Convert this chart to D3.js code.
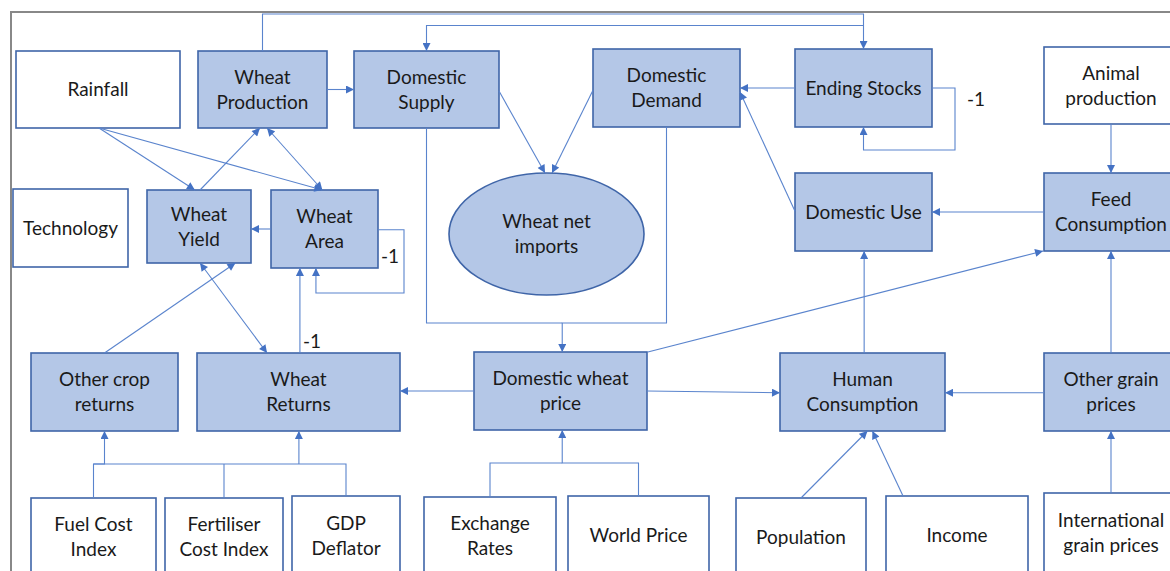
<!DOCTYPE html>
<html>
<head>
<meta charset="utf-8">
<script src="https://d3js.org/d3.v7.min.js"></script>
<style>
  html, body { margin: 0; background: #fff; }
  svg { display: block; font-family: Lato, "Open Sans", sans-serif; }
</style>
</head>
<body>
<svg id="chart" width="1170" height="571"></svg>
<script>
  // model variables (filled = endogenous, white = exogenous)
  const endogenous = [
    "Wheat Production", "Domestic Supply", "Domestic Demand", "Ending Stocks",
    "Wheat Yield", "Wheat Area", "Wheat net imports", "Domestic Use",
    "Feed Consumption", "Other crop returns", "Wheat Returns",
    "Domestic wheat price", "Human Consumption", "Other grain prices"
  ];
  const exogenous = [
    "Rainfall", "Animal production", "Technology", "Fuel Cost Index",
    "Fertiliser Cost Index", "GDP Deflator", "Exchange Rates", "World Price",
    "Population", "Income", "International grain prices"
  ];
  // line breaks inside each box
  const wrapped = {
    "Wheat Production": ["Wheat", "Production"],
    "Domestic Supply": ["Domestic", "Supply"],
    "Domestic Demand": ["Domestic", "Demand"],
    "Wheat Yield": ["Wheat", "Yield"],
    "Wheat Area": ["Wheat", "Area"],
    "Wheat net imports": ["Wheat net", "imports"],
    "Feed Consumption": ["Feed", "Consumption"],
    "Other crop returns": ["Other crop", "returns"],
    "Wheat Returns": ["Wheat", "Returns"],
    "Domestic wheat price": ["Domestic wheat", "price"],
    "Human Consumption": ["Human", "Consumption"],
    "Other grain prices": ["Other grain", "prices"],
    "Animal production": ["Animal", "production"],
    "Fuel Cost Index": ["Fuel Cost", "Index"],
    "Fertiliser Cost Index": ["Fertiliser", "Cost Index"],
    "GDP Deflator": ["GDP", "Deflator"],
    "Exchange Rates": ["Exchange", "Rates"],
    "International grain prices": ["International", "grain prices"]
  };
  // causal links: [from, to, both directions?]
  const links = [
    ["Wheat Production", "Domestic Supply", false],
    ["Rainfall", "Wheat Yield", false],
    ["Rainfall", "Wheat Area", false],
    ["Wheat Yield", "Wheat Production", false],
    ["Wheat Area", "Wheat Production", true],
    ["Wheat Area", "Wheat Yield", false],
    ["Wheat Area", "Wheat Area", false],
    ["Wheat Returns", "Wheat Area", false],
    ["Wheat Returns", "Wheat Yield", true],
    ["Other crop returns", "Wheat Yield", false],
    ["Domestic Supply", "Wheat net imports", false],
    ["Domestic Demand", "Wheat net imports", false],
    ["Ending Stocks", "Domestic Demand", false],
    ["Domestic Use", "Domestic Demand", false],
    ["Ending Stocks", "Ending Stocks", false],
    ["Wheat Production", "Ending Stocks", false],
    ["Ending Stocks", "Domestic Supply", false],
    ["Feed Consumption", "Domestic Use", false],
    ["Animal production", "Feed Consumption", false],
    ["Human Consumption", "Domestic Use", false],
    ["Other grain prices", "Feed Consumption", false],
    ["Domestic wheat price", "Feed Consumption", false],
    ["Domestic Supply", "Domestic wheat price", false],
    ["Domestic Demand", "Domestic wheat price", false],
    ["Domestic wheat price", "Wheat Returns", false],
    ["Domestic wheat price", "Human Consumption", false],
    ["Other grain prices", "Human Consumption", false],
    ["Exchange Rates", "Domestic wheat price", false],
    ["World Price", "Domestic wheat price", false],
    ["Fuel Cost Index", "Other crop returns", false],
    ["Fertiliser Cost Index", "Other crop returns", false],
    ["GDP Deflator", "Wheat Returns", false],
    ["Population", "Human Consumption", false],
    ["Income", "Human Consumption", false],
    ["International grain prices", "Other grain prices", false]
  ];
  const lagLabels = ["-1", "-1", "-1"];

  // ---- layout ----
  const box = {
    "Rainfall": [16, 51, 164, 77],
    "Wheat Production": [198, 51, 129, 77],
    "Domestic Supply": [354, 51, 145, 77],
    "Domestic Demand": [593, 49, 147, 78],
    "Ending Stocks": [795, 49, 137, 78],
    "Animal production": [1044, 47, 134, 77],
    "Technology": [13, 189, 115, 78],
    "Wheat Yield": [147, 190, 104, 73],
    "Wheat Area": [271, 190, 107, 78],
    "Wheat net imports": [449, 173, 195, 122],
    "Domestic Use": [795, 173, 137, 78],
    "Feed Consumption": [1044, 173, 134, 78],
    "Other crop returns": [31, 353, 147, 78],
    "Wheat Returns": [197, 353, 203, 78],
    "Domestic wheat price": [474, 352, 173, 78],
    "Human Consumption": [780, 353, 165, 78],
    "Other grain prices": [1044, 353, 134, 78],
    "Fuel Cost Index": [31, 498, 125, 78],
    "Fertiliser Cost Index": [165, 498, 118, 78],
    "GDP Deflator": [292, 496, 108, 80],
    "Exchange Rates": [424, 497, 132, 78],
    "World Price": [568, 496, 141, 78],
    "Population": [736, 498, 130, 78],
    "Income": [886, 496, 142, 78],
    "International grain prices": [1044, 493, 134, 80]
  };

  // point on a side of a box: t is fraction along that side
  function at(id, side, t = 0.5) {
    const [x, y, w, h] = box[id];
    if (side === "t") return [x + w * t, y];
    if (side === "b") return [x + w * t, y + h];
    if (side === "l") return [x, y + h * t];
    return [x + w, y + h * t];
  }
  const hz = (p, x) => [x, p[1]];
  const vt = (p, y) => [p[0], y];

  const routes = {
    "Wheat Production>Domestic Supply": () => [at("Wheat Production", "r"), hz(at("Wheat Production", "r"), 354)],
    "Rainfall>Wheat Yield": () => [at("Rainfall", "b", 0.506), at("Wheat Yield", "t", 0.46)],
    "Rainfall>Wheat Area": () => [at("Rainfall", "b", 0.506), at("Wheat Area", "t", 0.48)],
    "Wheat Yield>Wheat Production": () => [at("Wheat Yield", "t", 0.51), at("Wheat Production", "b", 0.48)],
    "Wheat Area>Wheat Production": () => [at("Wheat Area", "t", 0.48), at("Wheat Production", "b", 0.535)],
    "Wheat Area>Wheat Yield": () => [at("Wheat Area", "l", 0.5), hz(at("Wheat Area", "l", 0.5), 251)],
    "Wheat Area>Wheat Area": () => {
      const a = at("Wheat Area", "r", 0.51), b = at("Wheat Area", "b", 0.42);
      return [a, hz(a, 404), [404, 293], vt(b, 293), b];
    },
    "Wheat Returns>Wheat Area": () => [at("Wheat Returns", "t", 0.507), vt(at("Wheat Returns", "t", 0.507), 268)],
    "Wheat Returns>Wheat Yield": () => [at("Wheat Returns", "t", 0.345), at("Wheat Yield", "b", 0.51)],
    "Other crop returns>Wheat Yield": () => [at("Other crop returns", "t", 0.5), at("Wheat Yield", "b", 0.85)],
    "Domestic Supply>Wheat net imports": () => [at("Domestic Supply", "r", 0.52), [545, 173]],
    "Domestic Demand>Wheat net imports": () => [at("Domestic Demand", "l", 0.53), [552, 173]],
    "Ending Stocks>Domestic Demand": () => [at("Ending Stocks", "l", 0.5), hz(at("Ending Stocks", "l", 0.5), 740)],
    "Domestic Use>Domestic Demand": () => [at("Domestic Use", "l", 0.49), at("Domestic Demand", "r", 0.55)],
    "Ending Stocks>Ending Stocks": () => {
      const a = at("Ending Stocks", "r", 0.5), b = at("Ending Stocks", "b", 0.5);
      return [a, hz(a, 955), [955, 150], vt(b, 150), b];
    },
    "Wheat Production>Ending Stocks": () => {
      const a = at("Wheat Production", "t", 0.5), b = at("Ending Stocks", "t", 0.5);
      return [a, vt(a, 14), vt(b, 14), b];
    },
    "Ending Stocks>Domestic Supply": () => {
      const a = at("Ending Stocks", "t", 0.5), b = at("Domestic Supply", "t", 0.5);
      return [vt(a, 25.5), vt(b, 25.5), b];
    },
    "Feed Consumption>Domestic Use": () => [at("Feed Consumption", "l", 0.5), hz(at("Feed Consumption", "l", 0.5), 932)],
    "Animal production>Feed Consumption": () => [at("Animal production", "b"), at("Feed Consumption", "t")],
    "Human Consumption>Domestic Use": () => [at("Human Consumption", "t", 0.51), vt(at("Human Consumption", "t", 0.51), 251)],
    "Other grain prices>Feed Consumption": () => [at("Other grain prices", "t"), at("Feed Consumption", "b")],
    "Domestic wheat price>Feed Consumption": () => [at("Domestic wheat price", "t", 1.005), at("Feed Consumption", "b", -0.007)],
    "Domestic Supply>Domestic wheat price": () => {
      const a = at("Domestic Supply", "b", 0.5);
      return [a, vt(a, 323), vt(at("Domestic wheat price", "t", 0.51), 323)];
    },
    "Domestic Demand>Domestic wheat price": () => {
      const a = at("Domestic Demand", "b", 0.5), b = at("Domestic wheat price", "t", 0.51);
      return [a, vt(a, 323), vt(b, 323), b];
    },
    "Domestic wheat price>Wheat Returns": () => [at("Domestic wheat price", "l", 0.5), hz(at("Domestic wheat price", "l", 0.5), 400)],
    "Domestic wheat price>Human Consumption": () => [at("Domestic wheat price", "r", 0.5), at("Human Consumption", "l", 0.51)],
    "Other grain prices>Human Consumption": () => [at("Other grain prices", "l", 0.51), at("Human Consumption", "r", 0.51)],
    "Exchange Rates>Domestic wheat price": () => {
      const a = at("Exchange Rates", "t", 0.5);
      return [a, vt(a, 463), vt(at("Domestic wheat price", "b", 0.51), 463)];
    },
    "World Price>Domestic wheat price": () => {
      const a = at("World Price", "t", 0.5), b = at("Domestic wheat price", "b", 0.51);
      return [a, vt(a, 463), vt(b, 463), b];
    },
    "Fuel Cost Index>Other crop returns": () => {
      const a = at("Fuel Cost Index", "t", 0.5), b = at("Other crop returns", "b", 0.5);
      return [a, vt(a, 464), vt(b, 464), b];
    },
    "Fertiliser Cost Index>Other crop returns": () => {
      const a = at("Fertiliser Cost Index", "t", 0.5);
      return [a, vt(a, 464)];
    },
    "GDP Deflator>Wheat Returns": () => {
      const a = at("GDP Deflator", "t", 0.5), b = at("Wheat Returns", "b", 0.502);
      return [a, vt(a, 464), vt(at("Fuel Cost Index", "t", 0.5), 464), vt(b, 464), b];
    },
    "Population>Human Consumption": () => [at("Population", "t", 0.5), at("Human Consumption", "b", 0.53)],
    "Income>Human Consumption": () => [at("Income", "t", 0.12), at("Human Consumption", "b", 0.56)],
    "International grain prices>Other grain prices": () => [at("International grain prices", "t"), at("Other grain prices", "b")]
  };
  // links whose drawn segment ends without an arrowhead (shared elbow trunks)
  const noHead = new Set([
    "Domestic Supply>Domestic wheat price",
    "Exchange Rates>Domestic wheat price",
    "Fertiliser Cost Index>Other crop returns"
  ]);
  const lagPos = [[381, 256], [303, 341], [967, 99]];

  const lineColor = "#5a84cd";
  const svg = d3.select("#chart");

  const defs = svg.append("defs");
  defs.append("marker")
    .attr("id", "head")
    .attr("viewBox", "0 0 10 10")
    .attr("refX", 10).attr("refY", 5)
    .attr("markerWidth", 9).attr("markerHeight", 8)
    .attr("markerUnits", "userSpaceOnUse")
    .attr("orient", "auto-start-reverse")
    .append("path")
    .attr("d", "M0,0 L10,5 L0,10 z")
    .attr("fill", "#4472c4");

  // outer frame
  svg.append("path")
    .attr("d", d3.line()([[11, 571], [11, 12], [1170, 12]]))
    .attr("fill", "none")
    .attr("stroke", "#888")
    .attr("stroke-width", 2);

  // boxes
  const nodes = endogenous.map(id => ({ id, filled: true }))
    .concat(exogenous.map(id => ({ id, filled: false })));

  const g = svg.append("g").selectAll("g")
    .data(nodes)
    .join("g");

  g.filter(d => d.id !== "Wheat net imports")
    .append("rect")
    .attr("x", d => box[d.id][0])
    .attr("y", d => box[d.id][1])
    .attr("width", d => box[d.id][2])
    .attr("height", d => box[d.id][3])
    .attr("fill", d => d.filled ? "#b4c7e7" : "#fff")
    .attr("stroke", "#3f65a8")
    .attr("stroke-width", 1.6);

  g.filter(d => d.id === "Wheat net imports")
    .append("ellipse")
    .attr("cx", d => box[d.id][0] + box[d.id][2] / 2)
    .attr("cy", d => box[d.id][1] + box[d.id][3] / 2)
    .attr("rx", d => box[d.id][2] / 2)
    .attr("ry", d => box[d.id][3] / 2)
    .attr("fill", "#b4c7e7")
    .attr("stroke", "#3f65a8")
    .attr("stroke-width", 1.6);

  g.append("text")
    .attr("text-anchor", "middle")
    .attr("font-size", 19)
    .attr("fill", "#1a1a1a")
    .each(function (d) {
      const lines = wrapped[d.id] || [d.id];
      const [x, y, w, h] = box[d.id];
      const cx = x + w / 2, cy = y + h / 2;
      const lh = 25;
      d3.select(this).selectAll("tspan")
        .data(lines)
        .join("tspan")
        .attr("x", cx)
        .attr("y", (l, i) => cy + (i - (lines.length - 1) / 2) * lh)
        .attr("dy", "0.35em")
        .text(l => l);
    });

  // connectors
  svg.append("g").selectAll("path")
    .data(links)
    .join("path")
    .attr("d", d => d3.line()(routes[d[0] + ">" + d[1]]()))
    .attr("fill", "none")
    .attr("stroke", lineColor)
    .attr("stroke-width", 1.1)
    .attr("marker-end", d => noHead.has(d[0] + ">" + d[1]) ? null : "url(#head)")
    .attr("marker-start", d => d[2] ? "url(#head)" : null);

  // lag labels
  svg.append("g").selectAll("text")
    .data(lagLabels)
    .join("text")
    .attr("x", (d, i) => lagPos[i][0])
    .attr("y", (d, i) => lagPos[i][1])
    .attr("dy", "0.35em")
    .attr("font-size", 19)
    .attr("fill", "#1a1a1a")
    .text(d => d);
</script>
</body>
</html>
